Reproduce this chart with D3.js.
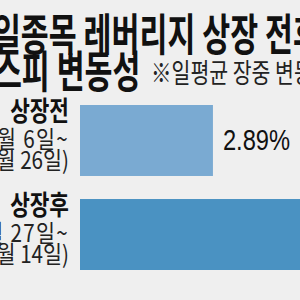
<!DOCTYPE html>
<html>
<head>
<meta charset="utf-8">
<script src="https://cdn.jsdelivr.net/npm/d3@7"></script>
<style>
  html, body { margin: 0; padding: 0; background: #efefef; }
  svg { display: block; }
</style>
</head>
<body>
<div id="chart"></div>
<script>
const titleLines = ["단일종목 레버리지 상장 전후", "코스피 변동성"];
const note = "※일평균 장중 변동폭";
const periods = ["상장전", "상장후"];
const periodDates = [["월 6일~", "월 26일)"], ["월 27일~", "월 14일)"]];
const values = [2.89, 5.1];
const valueLabels = ["2.89%", "5.1%"];
const barColors = ["#7aaad2", "#4a92c2"];

const width = 300, height = 300;
const svg = d3.select("#chart").append("svg").attr("width", width).attr("height", height);

const defs = svg.append("defs");
const sh = defs.append("filter").attr("id", "shadow").attr("x", "-50%").attr("y", "-10%").attr("width", "200%").attr("height", "120%");
sh.append("feGaussianBlur").attr("stdDeviation", 1.5);

svg.append("rect").attr("width", width).attr("height", height).attr("fill", "#efefef");

const kr = "'Noto Sans CJK KR', 'Noto Sans', sans-serif";

// narrow newspaper type: squeeze horizontally
function ctext(parent, x0, y0, sx, str) {
    return parent.append("g").attr("transform", `translate(${x0},${y0}) scale(${sx},1)`)
        .append("text").attr("fill", "#111").text(str);
}

ctext(svg, -35, 51, 0.69, titleLines[0])
    .attr("font-family", kr).attr("font-weight", 700).attr("font-size", 44);
ctext(svg, -34, 88, 0.69, titleLines[1])
    .attr("font-family", kr).attr("font-weight", 700).attr("font-size", 44);
ctext(svg, 151, 83, 0.76, note)
    .attr("font-family", kr).attr("font-size", 27).attr("fill", "#222");

const x = d3.scaleLinear().domain([0, 5]).range([80, 310]);
const y = d3.scaleBand().domain(periods).range([105, 270]).paddingInner(0.245).paddingOuter(0);

// axis line with soft shadow
svg.append("line")
    .attr("x1", 78).attr("x2", 78).attr("y1", 100).attr("y2", 273)
    .attr("stroke", "#888").attr("stroke-width", 4).attr("filter", "url(#shadow)");

svg.selectAll(".bar").data(periods).join("rect")
    .attr("class", "bar")
    .attr("x", x(0))
    .attr("y", d => y(d))
    .attr("width", (d, i) => x(values[i]) - x(0))
    .attr("height", y.bandwidth())
    .attr("fill", (d, i) => barColors[i]);

periods.forEach((d, i) => {
    ctext(svg, x(values[i]) + 10, y(d) + y.bandwidth() / 2 + 10, 0.79, valueLabels[i])
        .attr("font-family", "'Liberation Sans', Arial, sans-serif")
        .attr("font-size", 30);
    ctext(svg, 69, y(d) + 16, 0.79, d)
        .attr("text-anchor", "end")
        .attr("font-family", kr).attr("font-weight", 700).attr("font-size", 27);
    periodDates[i].forEach((t, j) => {
        ctext(svg, 69, y(d) + 43 + j * 21, 0.86, t)
            .attr("text-anchor", "end")
            .attr("letter-spacing", t.endsWith("~") ? 1.5 : 0)
            .attr("font-family", kr).attr("font-size", 24).attr("fill", "#222");
    });
});
</script>
</body>
</html>
